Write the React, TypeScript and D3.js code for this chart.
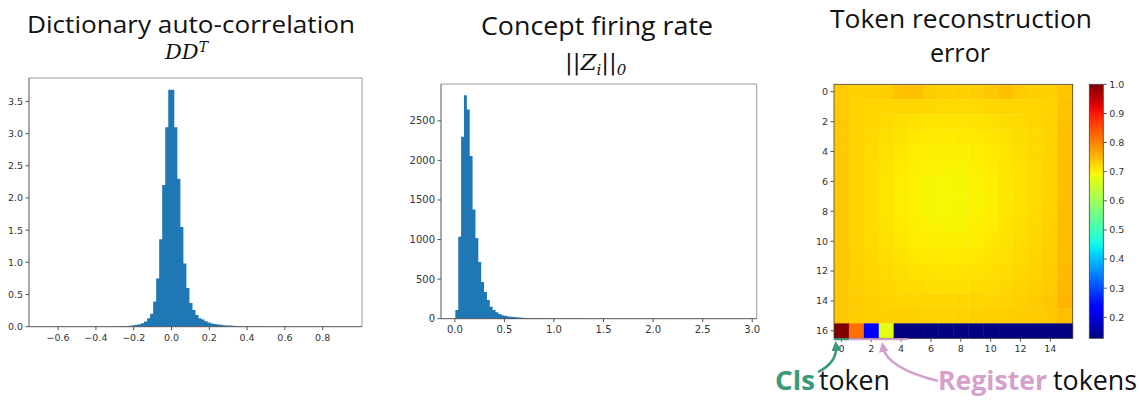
import React from "react";
import * as d3 from "d3";

// ---------- DATA ----------
// Histogram 1: Dictionary auto-correlation (density), 100 bins
const h1Range: [number, number] = [-0.674, 0.928];
const h1Values: number[] = [
  0.0001, 0, 0, 0, 0, 0, 0, 0, 0, 0,
  0.0001, 0.0001, 0.0001, 0.0001, 0.0001, 0.0002, 0.0002, 0.0003, 0.0004, 0.0006,
  0.001, 0.0015, 0.002, 0.003, 0.004, 0.006, 0.008, 0.011, 0.016, 0.022,
  0.03, 0.04, 0.055, 0.08, 0.13, 0.2, 0.39, 0.75, 1.36, 2.2,
  3.1, 3.68, 3.68, 3.1, 2.3, 1.55, 0.98, 0.6, 0.37, 0.26,
  0.18, 0.13, 0.11, 0.085, 0.065, 0.05, 0.042, 0.035, 0.029, 0.024,
  0.02, 0.017, 0.014, 0.012, 0.01, 0.008, 0.006, 0.005, 0.004, 0.003,
  0.0025, 0.002, 0.0015, 0.001, 0.0008, 0.0006, 0.0005, 0.0004, 0.0003, 0.0003,
  0.0002, 0.0001, 0.0001, 0.0001, 0.0001, 0, 0, 0, 0.0001, 0,
  0, 0, 0, 0, 0, 0, 0, 0, 0, 0.0001,
];
const h1XTicks = [-0.6, -0.4, -0.2, 0, 0.2, 0.4, 0.6, 0.8];
const h1YTicks = [0, 0.5, 1, 1.5, 2, 2.5, 3, 3.5];

// Histogram 2: Concept firing rate (counts), 100 bins
const h2Range: [number, number] = [0.005, 2.9];
const h2Values: number[] = [
  109, 1035, 2298, 2824, 2643, 2054, 1380, 1018, 715, 463,
  337, 236, 150, 110, 80, 60, 45, 36, 29, 24,
  20, 17, 14, 12, 10, 9, 8, 7, 6, 6,
  5, 5, 4, 4, 3, 3, 2, 2, 2, 2,
  1, 1, 1, 1, 1, 1, 0, 0, 0, 0,
  1, 0, 0, 0, 0, 0, 0, 0, 0, 0,
  1, 0, 0, 0, 0, 0, 0, 0, 0, 0,
  0, 0, 0, 0, 0, 0, 0, 0, 0, 0,
  0, 0, 0, 0, 0, 0, 0, 0, 0, 0,
  0, 0, 0, 0, 0, 0, 0, 0, 0, 1,
];
const h2XTicks = [0, 0.5, 1, 1.5, 2, 2.5, 3];
const h2YTicks = [0, 500, 1000, 1500, 2000, 2500];

// Heatmap: token reconstruction error, 17 rows x 16 cols
const hmRows: number[][] = [
  [0.735, 0.730, 0.730, 0.732, 0.742, 0.744, 0.733, 0.730, 0.730, 0.732, 0.738, 0.744, 0.735, 0.730, 0.730, 0.740],
  [0.735, 0.728, 0.726, 0.724, 0.724, 0.724, 0.722, 0.720, 0.720, 0.722, 0.724, 0.726, 0.725, 0.726, 0.728, 0.742],
  [0.736, 0.728, 0.724, 0.720, 0.716, 0.712, 0.710, 0.710, 0.710, 0.712, 0.714, 0.718, 0.720, 0.724, 0.728, 0.744],
  [0.736, 0.728, 0.722, 0.716, 0.712, 0.708, 0.706, 0.705, 0.706, 0.707, 0.710, 0.714, 0.718, 0.722, 0.728, 0.745],
  [0.737, 0.728, 0.720, 0.714, 0.708, 0.704, 0.702, 0.700, 0.700, 0.703, 0.706, 0.711, 0.716, 0.722, 0.728, 0.746],
  [0.737, 0.727, 0.719, 0.712, 0.706, 0.701, 0.698, 0.697, 0.697, 0.700, 0.704, 0.709, 0.715, 0.721, 0.728, 0.747],
  [0.737, 0.727, 0.718, 0.711, 0.704, 0.699, 0.695, 0.693, 0.694, 0.698, 0.702, 0.708, 0.714, 0.720, 0.728, 0.747],
  [0.737, 0.727, 0.718, 0.710, 0.703, 0.698, 0.694, 0.692, 0.693, 0.697, 0.701, 0.707, 0.714, 0.720, 0.728, 0.748],
  [0.737, 0.727, 0.718, 0.710, 0.704, 0.699, 0.695, 0.693, 0.694, 0.697, 0.702, 0.708, 0.714, 0.721, 0.729, 0.748],
  [0.737, 0.727, 0.719, 0.712, 0.706, 0.701, 0.698, 0.696, 0.697, 0.700, 0.704, 0.710, 0.716, 0.722, 0.730, 0.748],
  [0.738, 0.728, 0.720, 0.714, 0.708, 0.704, 0.702, 0.700, 0.701, 0.703, 0.707, 0.712, 0.718, 0.724, 0.730, 0.748],
  [0.738, 0.729, 0.722, 0.717, 0.712, 0.708, 0.706, 0.705, 0.706, 0.708, 0.711, 0.715, 0.720, 0.726, 0.732, 0.749],
  [0.738, 0.730, 0.725, 0.720, 0.716, 0.713, 0.711, 0.710, 0.711, 0.713, 0.715, 0.719, 0.723, 0.728, 0.733, 0.750],
  [0.738, 0.731, 0.727, 0.724, 0.720, 0.718, 0.716, 0.716, 0.716, 0.718, 0.720, 0.723, 0.727, 0.730, 0.735, 0.752],
  [0.738, 0.733, 0.730, 0.728, 0.726, 0.724, 0.723, 0.723, 0.723, 0.724, 0.726, 0.728, 0.730, 0.733, 0.738, 0.754],
  [0.736, 0.732, 0.731, 0.730, 0.730, 0.730, 0.729, 0.729, 0.729, 0.730, 0.731, 0.732, 0.733, 0.734, 0.736, 0.745],
  [1.0, 0.82, 0.23, 0.675, 0.128, 0.128, 0.128, 0.128, 0.128, 0.128, 0.128, 0.128, 0.128, 0.128, 0.128, 0.128],
];
const hmColorDomain: [number, number] = [0.128, 1.0];
const hmXTicks = [0, 2, 4, 6, 8, 10, 12, 14];
const hmYTicks = [0, 2, 4, 6, 8, 10, 12, 14, 16];
const cbTicks = [0.2, 0.3, 0.4, 0.5, 0.6, 0.7, 0.8, 0.9, 1.0];

// ---------- HELPERS ----------
const jetR = d3.scaleLinear().domain([0, 0.35, 0.66, 0.89, 1]).range([0, 0, 1, 1, 0.5]).clamp(true);
const jetG = d3.scaleLinear().domain([0, 0.125, 0.375, 0.64, 0.91, 1]).range([0, 0, 1, 1, 0, 0]).clamp(true);
const jetB = d3.scaleLinear().domain([0, 0.11, 0.34, 0.65, 1]).range([0.5, 1, 1, 0, 0]).clamp(true);
const jet = (t: number) =>
  d3.rgb(Math.round(jetR(t) * 255), Math.round(jetG(t) * 255), Math.round(jetB(t) * 255)).formatHex();

const TITLE_FONT = "'Open Sans', Lato, sans-serif";
const MATH_FONT = "'DejaVu Serif', 'Liberation Serif', serif";
const TICK_FONT = "'DejaVu Sans', sans-serif";
const TICK_COLOR = "#333";
const BAR = "#1f77b4";
const GREEN = "#3A9977";
const PINK = "#D6A0CC";

function Histogram(props: {
  values: number[];
  range: [number, number];
  xTicks: number[];
  yTicks: number[];
  box: { l: number; r: number; t: number; b: number };
  xFmt: (v: number) => string;
  yFmt: (v: number) => string;
  fontSize: number;
}) {
  const { values, range, xTicks, yTicks, box, xFmt, yFmt, fontSize } = props;
  const span = range[1] - range[0];
  const x = d3.scaleLinear().domain([range[0] - span * 0.05, range[1] + span * 0.05]).range([box.l, box.r]);
  const y = d3.scaleLinear().domain([0, (d3.max(values) as number) * 1.05]).range([box.b, box.t]);
  const bw = span / values.length;
  const p = d3.path();
  p.moveTo(x(range[0]), y(0));
  values.forEach((v, i) => {
    p.lineTo(x(range[0] + i * bw), y(v));
    p.lineTo(x(range[0] + (i + 1) * bw), y(v));
  });
  p.lineTo(x(range[1]), y(0));
  p.closePath();
  return (
    <g>
      <path d={p.toString()} fill={BAR} />
      <line x1={box.l} x2={box.r} y1={box.t} y2={box.t} stroke="#999" strokeWidth={1} />
      <line x1={box.r} x2={box.r} y1={box.t} y2={box.b} stroke="#999" strokeWidth={1} />
      <line x1={box.l} x2={box.l} y1={box.t} y2={box.b} stroke="#555" strokeWidth={1} />
      <line x1={box.l} x2={box.r} y1={box.b} y2={box.b} stroke="#555" strokeWidth={1} />
      {xTicks.map((t) => (
        <g key={"x" + t}>
          <line x1={x(t)} x2={x(t)} y1={box.b} y2={box.b + 3.5} stroke="#555" />
          <text x={x(t)} y={box.b + 13.8} textAnchor="middle" fontSize={fontSize} fontFamily={TICK_FONT} fill={TICK_COLOR}>
            {xFmt(t)}
          </text>
        </g>
      ))}
      {yTicks.map((t) => (
        <g key={"y" + t}>
          <line x1={box.l - 3.5} x2={box.l} y1={y(t)} y2={y(t)} stroke="#555" />
          <text x={box.l - 6} y={y(t) + 3.4} textAnchor="end" fontSize={fontSize} fontFamily={TICK_FONT} fill={TICK_COLOR}>
            {yFmt(t)}
          </text>
        </g>
      ))}
    </g>
  );
}

function Heatmap() {
  const box = { l: 834, r: 1072.7, t: 84.3, b: 338.3 };
  const nCols = hmRows[0].length;
  const nRows = hmRows.length;
  const x = d3.scaleLinear().domain([-0.5, nCols - 0.5]).range([box.l, box.r]);
  const y = d3.scaleLinear().domain([-0.5, nRows - 0.5]).range([box.t, box.b]);
  const norm = d3.scaleLinear().domain(hmColorDomain).range([0, 1]).clamp(true);
  const cb = { l: 1089.3, r: 1103.3, t: 84.3, b: 338.3 };
  const cy = d3.scaleLinear().domain(hmColorDomain).range([cb.b, cb.t]);
  const stops = d3.range(0, 1.0001, 0.02);
  return (
    <g>
      <defs>
        <linearGradient id="jetgrad" x1="0" y1="1" x2="0" y2="0">
          {stops.map((s) => (
            <stop key={s} offset={s} stopColor={jet(s)} />
          ))}
        </linearGradient>
      </defs>
      {hmRows.map((row, r) =>
        row.map((v, c) => (
          <rect
            key={r + "-" + c}
            x={x(c - 0.5)}
            y={y(r - 0.5)}
            width={x(c + 0.5) - x(c - 0.5) + 0.4}
            height={y(r + 0.5) - y(r - 0.5) + 0.4}
            fill={jet(norm(v))}
          />
        ))
      )}
      <rect x={box.l} y={box.t} width={box.r - box.l} height={box.b - box.t} fill="none" stroke="#444" strokeWidth={0.8} />
      {hmXTicks.map((t) => (
        <g key={"hx" + t}>
          <line x1={x(t)} x2={x(t)} y1={box.b} y2={box.b + 3.5} stroke="#555" />
          <text x={x(t)} y={box.b + 13.8} textAnchor="middle" fontSize={9.5} fontFamily={TICK_FONT} fill={TICK_COLOR}>
            {t}
          </text>
        </g>
      ))}
      {hmYTicks.map((t) => (
        <g key={"hy" + t}>
          <line x1={box.l - 3.5} x2={box.l} y1={y(t)} y2={y(t)} stroke="#555" />
          <text x={box.l - 6} y={y(t) + 3.4} textAnchor="end" fontSize={9.5} fontFamily={TICK_FONT} fill={TICK_COLOR}>
            {t}
          </text>
        </g>
      ))}
      <rect x={cb.l} y={cb.t} width={cb.r - cb.l} height={cb.b - cb.t} fill="url(#jetgrad)" stroke="#444" strokeWidth={0.8} />
      {cbTicks.map((t) => (
        <g key={"cb" + t}>
          <line x1={cb.r} x2={cb.r + 3.5} y1={cy(t)} y2={cy(t)} stroke="#555" />
          <text x={cb.r + 6} y={cy(t) + 3.4} textAnchor="start" fontSize={9.5} fontFamily={TICK_FONT} fill={TICK_COLOR}>
            {d3.format(".1f")(t)}
          </text>
        </g>
      ))}
      {/* token underlines */}
      <line x1={x(-0.5)} x2={x(0.5)} y1={box.b + 1} y2={box.b + 1} stroke={GREEN} strokeWidth={2} />
      <line x1={x(0.5)} x2={x(4.5)} y1={box.b + 1} y2={box.b + 1} stroke={PINK} strokeWidth={2} />
    </g>
  );
}

function Title(props: { x: number; y: number; w: number; children: string; size?: number }) {
  return (
    <text
      x={props.x - props.w / 2}
      y={props.y}
      textLength={props.w}
      lengthAdjust="spacingAndGlyphs"
      fontSize={props.size ?? 25}
      fontFamily={TITLE_FONT}
      fill="#111"
    >
      {props.children}
    </text>
  );
}

export default function App() {
  const f1 = d3.format(".1f");
  return (
    <svg width={1139} height={401} style={{ position: "absolute", left: 0, top: 0, background: "#fff" }}>
      <rect width={1139} height={401} fill="#fff" />
      {/* Titles */}
      <Title x={191} y={33} w={328} size={24}>Dictionary auto-correlation</Title>
      <text x={165} y={59} fontSize={21} fontFamily={MATH_FONT} fontStyle="italic" fill="#111">
        DD<tspan dy={-7} fontSize={14}>T</tspan>
      </text>
      <Title x={597} y={35} w={232}>Concept firing rate</Title>
      <text x={565} y={70} fontSize={23} fontFamily={MATH_FONT} fontStyle="italic" fill="#111">
        ||Z<tspan dy={5} fontSize={15}>i</tspan>
        <tspan dy={-5}>||</tspan>
        <tspan dy={5} fontSize={15}>0</tspan>
      </text>
      <Title x={961} y={28} w={262}>Token reconstruction</Title>
      <Title x={960} y={62} w={60}>error</Title>

      <Histogram
        values={h1Values}
        range={h1Range}
        xTicks={h1XTicks}
        yTicks={h1YTicks}
        box={{ l: 29, r: 362, t: 78, b: 326.7 }}
        xFmt={f1}
        yFmt={f1}
        fontSize={9.5}
      />
      <Histogram
        values={h2Values}
        range={h2Range}
        xTicks={h2XTicks}
        yTicks={h2YTicks}
        box={{ l: 441, r: 756.7, t: 84, b: 318.7 }}
        xFmt={f1}
        yFmt={(v) => String(v)}
        fontSize={10}
      />
      <Heatmap />

      {/* Annotations */}
      <defs>
        <marker id="ag" viewBox="0 0 10 10" refX="5" refY="5" markerWidth="4" markerHeight="4" orient="auto">
          <path d="M0,0 L10,5 L0,10 z" fill={GREEN} />
        </marker>
        <marker id="ap" viewBox="0 0 10 10" refX="5" refY="5" markerWidth="4" markerHeight="4" orient="auto">
          <path d="M0,0 L10,5 L0,10 z" fill={PINK} />
        </marker>
      </defs>
      <path d="M818,372 C830,366 837,357 836,346" fill="none" stroke={GREEN} strokeWidth={2.5} markerEnd="url(#ag)" />
      <path d="M938,381 C910,374 886,364 883,347" fill="none" stroke={PINK} strokeWidth={2.5} markerEnd="url(#ap)" />
      <text x={775} y={390} textLength={40} lengthAdjust="spacingAndGlyphs" fontSize={27} fontFamily={TITLE_FONT} fontWeight={700} fill={GREEN}>
        Cls
      </text>
      <text x={819} y={390} textLength={71} lengthAdjust="spacingAndGlyphs" fontSize={27} fontFamily={TITLE_FONT} fill="#111">
        token
      </text>
      <text x={938} y={390} textLength={109} lengthAdjust="spacingAndGlyphs" fontSize={27} fontFamily={TITLE_FONT} fontWeight={700} fill={PINK}>
        Register
      </text>
      <text x={1053} y={390} textLength={84} lengthAdjust="spacingAndGlyphs" fontSize={27} fontFamily={TITLE_FONT} fill="#111">
        tokens
      </text>
    </svg>
  );
}
